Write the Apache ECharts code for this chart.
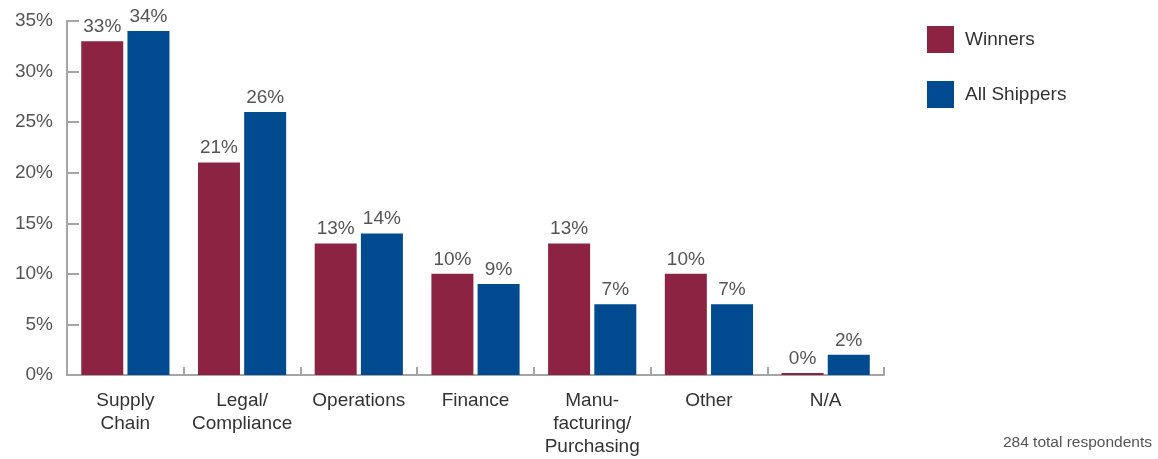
<!DOCTYPE html>
<html>
<head>
<meta charset="utf-8">
<script src="https://cdn.jsdelivr.net/npm/echarts@6/dist/echarts.min.js"></script>
<style>html,body{margin:0;padding:0;background:#fff;}#c{width:1158px;height:459px;}</style>
</head>
<body>
<div id="c"></div>
<script>
const categories = ['Supply\nChain', 'Legal/\nCompliance', 'Operations', 'Finance', 'Manu-\nfacturing/\nPurchasing', 'Other', 'N/A'];
const winners = [33, 21, 13, 10, 13, 10, 0];
const allShippers = [34, 26, 14, 9, 7, 7, 2];
const seriesNames = ['Winners', 'All Shippers'];
const yTicks = [0, 5, 10, 15, 20, 25, 30, 35];
const footnote = '284 total respondents';

const FONT = '"Liberation Sans", Arial, Helvetica, sans-serif';
const chart = echarts.init(document.getElementById('c'));
const labelCfg = {
  show: true, position: 'top', distance: 5,
  formatter: p => p.value + '%', color: '#555', fontSize: 19, fontFamily: FONT
};
chart.setOption({
  animation: false,
  textStyle: { fontFamily: FONT },
  grid: { left: 67, right: 274, top: 21, bottom: 84, containLabel: false },
  legend: {
    orient: 'vertical', left: 927, top: 26, padding: 0, itemWidth: 27, itemHeight: 27, itemGap: 28,
    icon: 'rect', textStyle: { fontSize: 19, color: '#333', fontFamily: FONT, padding: [5, 0, 0, 6] },
    data: seriesNames
  },
  graphic: [{
    type: 'text', right: 6, top: 435,
    style: { text: footnote, fontSize: 15.5, fill: '#555', fontFamily: FONT }
  }],
  xAxis: {
    type: 'category', data: categories,
    axisLine: { lineStyle: { color: '#a5a5a8', width: 2 } },
    axisTick: { show: true, inside: true, length: 8, lineStyle: { color: '#a5a5a8', width: 2 } },
    axisLabel: { color: '#333', fontSize: 19, lineHeight: 23, margin: 14, fontFamily: FONT, interval: 0 }
  },
  yAxis: {
    type: 'value', min: 0, max: 35, interval: 5,
    axisLine: { show: true, lineStyle: { color: '#a5a5a8', width: 2 } },
    axisTick: { show: true, inside: true, length: 12, lineStyle: { color: '#a5a5a8', width: 2 } },
    splitLine: { show: false },
    axisLabel: { color: '#555', fontSize: 19, margin: 14, fontFamily: FONT,
      formatter: v => yTicks.includes(v) ? v + '%' : '' }
  },
  series: [
    { name: seriesNames[0], type: 'bar', data: winners, barWidth: 42, barGap: '10%',
      barMinHeight: 2, itemStyle: { color: '#8d2343' }, label: labelCfg },
    { name: seriesNames[1], type: 'bar', data: allShippers, barWidth: 42, barGap: '10%',
      itemStyle: { color: '#004a8f' }, label: labelCfg }
  ]
});
</script>
</body>
</html>
